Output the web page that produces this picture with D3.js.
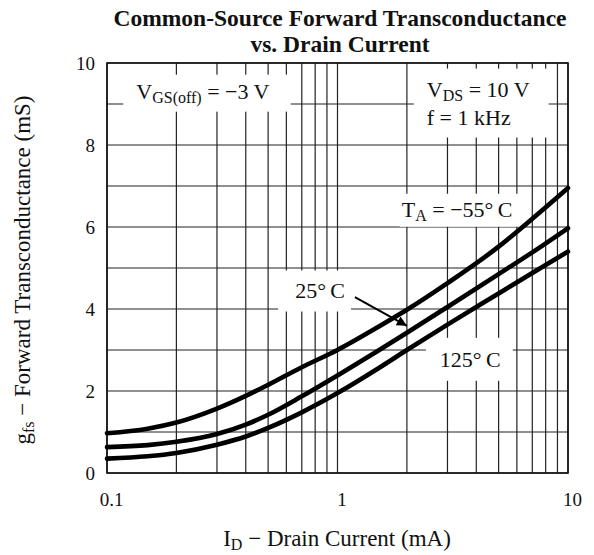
<!DOCTYPE html>
<html>
<head>
<meta charset="UTF-8">
<title>Common-Source Forward Transconductance vs. Drain Current</title>
<script src="https://cdn.jsdelivr.net/npm/d3@7"></script>
<style>
body { margin: 0; background: #fff; }
svg text { font-family: "Liberation Serif", "Times New Roman", serif; fill: #111; }
</style>
</head>
<body>
<div id="chart"></div>
<script>
// drain current (mA) and gfs (mS)
var currents = [0.1, 0.15, 0.2, 0.3, 0.4, 0.5, 0.7, 1, 1.5, 2, 3, 5, 7, 10];
var gfsMinus55 = [0.97, 1.08, 1.23, 1.57, 1.88, 2.15, 2.58, 3.0, 3.56, 3.98, 4.63, 5.52, 6.2, 6.95];
var gfs25 = [0.63, 0.68, 0.76, 0.95, 1.18, 1.42, 1.87, 2.38, 2.98, 3.42, 4.05, 4.85, 5.38, 5.97];
var gfs125 = [0.35, 0.41, 0.49, 0.69, 0.89, 1.1, 1.48, 1.95, 2.55, 3.0, 3.62, 4.38, 4.88, 5.4];

var xTickLabels = [0.1, 1, 10];
var yTickLabels = [0, 2, 4, 6, 8, 10];

// annotation anchors in data units [mA, mS]
var notes = [
    {at: [0.134, 9.13], pad: [13, 21, 4, 5], parts: [['V'], ['GS(off)', 1], [' = \u22123 V']]},
    {at: [2.44, 9.18], pad: [13, 19, 8, 8], parts: [['V'], ['DS', 1], [' = 10 V']],
        line2: {at: [2.44, 8.5], parts: [['f = 1 kHz']]}},
    {at: [1.9, 6.25], pad: [2, 11, 3, 3], parts: [['T'], ['A', 1], [' = \u221255\u00b0\u2009C']]},
    {at: [0.655, 4.28], pad: [17, 6, 7, 9], parts: [['25\u00b0\u2009C']]},
    {at: [2.78, 2.59], pad: [14, 12, 9, 9], parts: [['125\u00b0\u2009C']]}
];
var arrowFrom = [1.19, 4.29], arrowTo = [2.0, 3.59];

var W = 594, H = 555;
var margin = {top: 63, right: 26, bottom: 82, left: 107};

var svg = d3.select('#chart').append('svg')
    .attr('width', W)
    .attr('height', H);

var x = d3.scaleLog().domain([0.1, 10]).range([margin.left, W - margin.right]);
var y = d3.scaleLinear().domain([0, 10]).range([H - margin.bottom, margin.top]);

// grid
var grid = svg.append('g').attr('class', 'grid');
grid.selectAll('line.v')
    .data(x.ticks())
    .enter().append('line')
    .attr('class', 'v')
    .attr('x1', function(d){ return x(d); })
    .attr('x2', function(d){ return x(d); })
    .attr('y1', y(0))
    .attr('y2', y(10))
    .attr('stroke', '#222')
    .attr('stroke-width', 1.2);
grid.selectAll('line.h')
    .data(y.ticks(10))
    .enter().append('line')
    .attr('class', 'h')
    .attr('x1', x(0.1))
    .attr('x2', x(10))
    .attr('y1', function(d){ return y(d); })
    .attr('y2', function(d){ return y(d); })
    .attr('stroke', '#222')
    .attr('stroke-width', 1.2);

var boxes = svg.append('g').attr('class', 'boxes');

svg.append('rect')
    .attr('x', x(0.1))
    .attr('y', y(10))
    .attr('width', x(10) - x(0.1))
    .attr('height', y(0) - y(10))
    .attr('fill', 'none')
    .attr('stroke', '#111')
    .attr('stroke-width', 1.6);

// curves
var line = d3.line()
    .x(function(d){ return x(d[0]); })
    .y(function(d){ return y(d[1]); })
    .curve(d3.curveMonotoneX);

[gfsMinus55, gfs25, gfs125].forEach(function(vals){
    svg.append('path')
        .datum(currents.map(function(c, i){ return [c, vals[i]]; }))
        .attr('d', line)
        .attr('fill', 'none')
        .attr('stroke', '#000')
        .attr('stroke-width', 4.6)
        .attr('stroke-linecap', 'round');
});

// text with subscripts
function richText(g, at, parts) {
    var t = g.append('text')
        .attr('x', x(at[0]))
        .attr('y', y(at[1]))
        .attr('font-size', 22);
    var low = false;
    parts.forEach(function(p){
        var s = t.append('tspan').text(p[0]);
        if (p[1] && !low) { s.attr('font-size', 16).attr('dy', 4); low = true; }
        else if (!p[1] && low) { s.attr('dy', -4); low = false; }
    });
    return t;
}

var labels = svg.append('g').attr('class', 'labels');
notes.forEach(function(n){
    var t = richText(labels, n.at, n.parts);
    var b = t.node().getBBox();
    if (n.line2) {
        var b2 = richText(labels, n.line2.at, n.line2.parts).node().getBBox();
        var x1 = Math.max(b.x + b.width, b2.x + b2.width);
        b = {x: Math.min(b.x, b2.x), y: b.y, width: x1 - Math.min(b.x, b2.x), height: b2.y + b2.height - b.y};
    }
    boxes.append('rect')
        .attr('x', b.x - n.pad[0])
        .attr('y', b.y - n.pad[2])
        .attr('width', b.width + n.pad[0] + n.pad[1])
        .attr('height', b.height + n.pad[2] + n.pad[3])
        .attr('fill', '#fff');
});

// arrow to the 25 C curve
svg.append('defs').append('marker')
    .attr('id', 'head')
    .attr('viewBox', '0 0 10 10')
    .attr('refX', 10).attr('refY', 5)
    .attr('markerWidth', 8).attr('markerHeight', 5)
    .attr('markerUnits', 'strokeWidth')
    .attr('orient', 'auto')
    .append('path')
    .attr('d', 'M0,0 L10,5 L0,10 z')
    .attr('fill', '#000');

svg.append('line')
    .attr('x1', x(arrowFrom[0])).attr('y1', y(arrowFrom[1]))
    .attr('x2', x(arrowTo[0])).attr('y2', y(arrowTo[1]))
    .attr('stroke', '#000')
    .attr('stroke-width', 2)
    .attr('marker-end', 'url(#head)');

// axes
var xAxis = svg.append('g')
    .attr('transform', 'translate(0,' + y(0) + ')')
    .call(d3.axisBottom(x).tickValues(xTickLabels).tickFormat(function(d){ return String(d); })
        .tickSize(0).tickPadding(20));
xAxis.select('.domain').remove();
xAxis.attr('font-size', 19).attr('font-family', null);
xAxis.selectAll('text').attr('dx', 4);

var yAxis = svg.append('g')
    .attr('transform', 'translate(' + x(0.1) + ',0)')
    .call(d3.axisLeft(y).tickValues(yTickLabels).tickSize(0).tickPadding(12));
yAxis.select('.domain').remove();
yAxis.attr('font-size', 19).attr('font-family', null);

// titles
var title = svg.append('text')
    .attr('text-anchor', 'middle')
    .attr('font-size', 23.5)
    .attr('font-weight', 'bold');
title.append('tspan').attr('x', 340).attr('y', 26).text('Common-Source Forward Transconductance');
title.append('tspan').attr('x', 340).attr('y', 52).text('vs. Drain Current');

var xt = svg.append('text')
    .attr('x', 337).attr('y', 546)
    .attr('text-anchor', 'middle')
    .attr('font-size', 23);
xt.append('tspan').text('I');
xt.append('tspan').attr('font-size', 16).attr('dy', 4).text('D');
xt.append('tspan').attr('dy', -4).text(' \u2212 Drain Current (mA)');

var yt = svg.append('text')
    .attr('transform', 'translate(30,' + ((y(0) + y(10)) / 2 + 2) + ') rotate(-90)')
    .attr('text-anchor', 'middle')
    .attr('font-size', 23);
yt.append('tspan').text('g');
yt.append('tspan').attr('font-size', 16).attr('dy', 4).text('fs');
yt.append('tspan').attr('dy', -4).text(' \u2212 Forward Transconductance (mS)');
</script>
</body>
</html>
